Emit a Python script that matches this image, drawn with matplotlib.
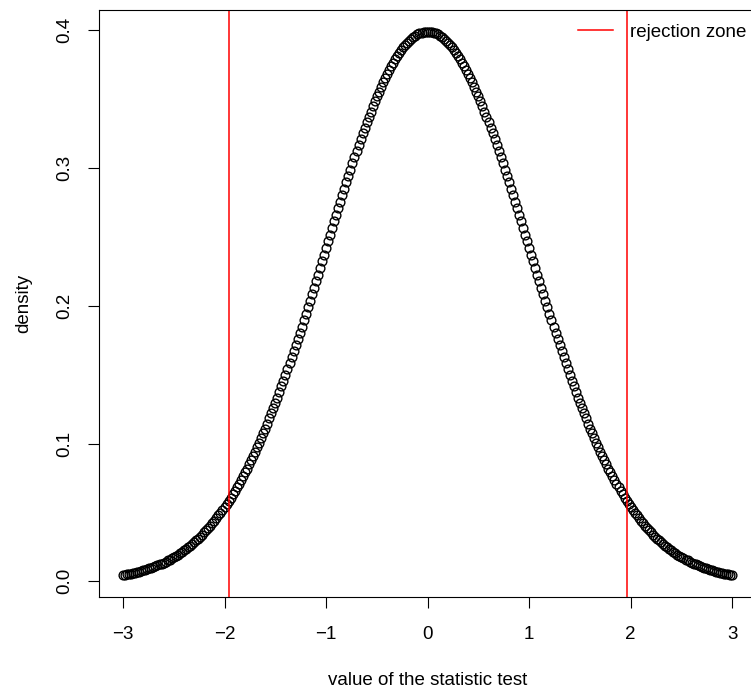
import numpy as np
import matplotlib
matplotlib.use('Agg')
import matplotlib.pyplot as plt

# grid of the statistic, like seq(-3, 3, by=0.02)
x_values = np.round(np.arange(-3.0, 3.0001, 0.02), 2)

# density (left half, centre, right half)
density_left = [
    0.0044, 0.0047, 0.0050, 0.0053, 0.0056, 0.0060, 0.0063, 0.0067, 0.0071, 0.0075,
    0.0079, 0.0084, 0.0088, 0.0093, 0.0099, 0.0104, 0.0110, 0.0116, 0.0122, 0.0129,
    0.0136, 0.0143, 0.0151, 0.0158, 0.0167, 0.0175, 0.0184, 0.0194, 0.0203, 0.0213,
    0.0224, 0.0235, 0.0246, 0.0258, 0.0270, 0.0283, 0.0297, 0.0310, 0.0325, 0.0339,
    0.0355, 0.0371, 0.0387, 0.0404, 0.0422, 0.0440, 0.0459, 0.0478, 0.0498, 0.0519,
    0.0540, 0.0562, 0.0584, 0.0608, 0.0632, 0.0656, 0.0681, 0.0707, 0.0734, 0.0761,
    0.0790, 0.0818, 0.0848, 0.0878, 0.0909, 0.0940, 0.0973, 0.1006, 0.1040, 0.1074,
    0.1109, 0.1145, 0.1182, 0.1219, 0.1257, 0.1295, 0.1334, 0.1374, 0.1415, 0.1456,
    0.1497, 0.1539, 0.1582, 0.1626, 0.1669, 0.1714, 0.1758, 0.1804, 0.1849, 0.1895,
    0.1942, 0.1989, 0.2036, 0.2083, 0.2131, 0.2179, 0.2227, 0.2275, 0.2323, 0.2371,
    0.2420, 0.2468, 0.2516, 0.2565, 0.2613, 0.2661, 0.2709, 0.2756, 0.2803, 0.2850,
    0.2897, 0.2943, 0.2989, 0.3034, 0.3079, 0.3123, 0.3166, 0.3209, 0.3251, 0.3292,
    0.3332, 0.3372, 0.3410, 0.3448, 0.3485, 0.3521, 0.3555, 0.3589, 0.3621, 0.3653,
    0.3683, 0.3712, 0.3739, 0.3765, 0.3790, 0.3814, 0.3836, 0.3857, 0.3876, 0.3894,
    0.3910, 0.3925, 0.3939, 0.3951, 0.3961, 0.3970, 0.3977, 0.3982, 0.3986, 0.3989,
]
density_centre = [0.3989]
density_right = [
    0.3989, 0.3986, 0.3982, 0.3977, 0.3970, 0.3961, 0.3951, 0.3939, 0.3925, 0.3910,
    0.3894, 0.3876, 0.3857, 0.3836, 0.3814, 0.3790, 0.3765, 0.3739, 0.3712, 0.3683,
    0.3653, 0.3621, 0.3589, 0.3555, 0.3521, 0.3485, 0.3448, 0.3410, 0.3372, 0.3332,
    0.3292, 0.3251, 0.3209, 0.3166, 0.3123, 0.3079, 0.3034, 0.2989, 0.2943, 0.2897,
    0.2850, 0.2803, 0.2756, 0.2709, 0.2661, 0.2613, 0.2565, 0.2516, 0.2468, 0.2420,
    0.2371, 0.2323, 0.2275, 0.2227, 0.2179, 0.2131, 0.2083, 0.2036, 0.1989, 0.1942,
    0.1895, 0.1849, 0.1804, 0.1758, 0.1714, 0.1669, 0.1626, 0.1582, 0.1539, 0.1497,
    0.1456, 0.1415, 0.1374, 0.1334, 0.1295, 0.1257, 0.1219, 0.1182, 0.1145, 0.1109,
    0.1074, 0.1040, 0.1006, 0.0973, 0.0940, 0.0909, 0.0878, 0.0848, 0.0818, 0.0790,
    0.0761, 0.0734, 0.0707, 0.0681, 0.0656, 0.0632, 0.0608, 0.0584, 0.0562, 0.0540,
    0.0519, 0.0498, 0.0478, 0.0459, 0.0440, 0.0422, 0.0404, 0.0387, 0.0371, 0.0355,
    0.0339, 0.0325, 0.0310, 0.0297, 0.0283, 0.0270, 0.0258, 0.0246, 0.0235, 0.0224,
    0.0213, 0.0203, 0.0194, 0.0184, 0.0175, 0.0167, 0.0158, 0.0151, 0.0143, 0.0136,
    0.0129, 0.0122, 0.0116, 0.0110, 0.0104, 0.0099, 0.0093, 0.0088, 0.0084, 0.0079,
    0.0075, 0.0071, 0.0067, 0.0063, 0.0060, 0.0056, 0.0053, 0.0050, 0.0047, 0.0044,
]
density_values = density_left + density_centre + density_right

# critical values of the rejection zone
critical_values = [-1.96, 1.96]

x_ticks = [-3, -2, -1, 0, 1, 2, 3]
x_tick_labels = ['\u22123', '\u22122', '\u22121', '0', '1', '2', '3']
y_ticks = [0.0, 0.1, 0.2, 0.3, 0.4]
y_tick_labels = ['0.0', '0.1', '0.2', '0.3', '0.4']

plt.rcParams['font.family'] = ['Liberation Sans', 'DejaVu Sans']
plt.rcParams['font.size'] = 13.5

fig = plt.figure(figsize=(7.51, 6.88), dpi=100)
# the right edge of the box falls outside the picture, as in the original
ax = fig.add_axes([98.6 / 751, 91.0 / 688, 658.0 / 751, 587.0 / 688])

ax.plot(x_values, density_values, linestyle='none', marker='o', markersize=6.3,
        markerfacecolor='none', markeredgecolor='black', markeredgewidth=1.0)

for i, cv in enumerate(critical_values):
  ax.axvline(cv, color='#FF0000', linewidth=1.1,
             label='rejection zone' if i == 0 else None)

ax.set_xlim(-3.24, 3.24)
ax.set_ylim(-0.0114, 0.4147)

ax.set_xticks(x_ticks)
ax.set_xticklabels(x_tick_labels)
ax.set_yticks(y_ticks)
ax.set_yticklabels(y_tick_labels, rotation=90, va='center')

ax.tick_params(direction='out', length=8, width=0.8, labelsize=13.5)
ax.tick_params(axis='x', pad=13)
ax.tick_params(axis='y', pad=10.5)
for side in ['left', 'bottom', 'top', 'right']:
  ax.spines[side].set_linewidth(0.8)

ax.set_xlabel('value of the statistic test', labelpad=21)
ax.set_ylabel('density', labelpad=17)

ax.legend(loc='upper left', bbox_to_anchor=(570 / 751, 1 - 16 / 688),
          bbox_transform=fig.transFigure, frameon=False, handlelength=1.9,
          handletextpad=0.9, fontsize=13.5, borderaxespad=0)

fig.savefig('out.png', dpi=100)
